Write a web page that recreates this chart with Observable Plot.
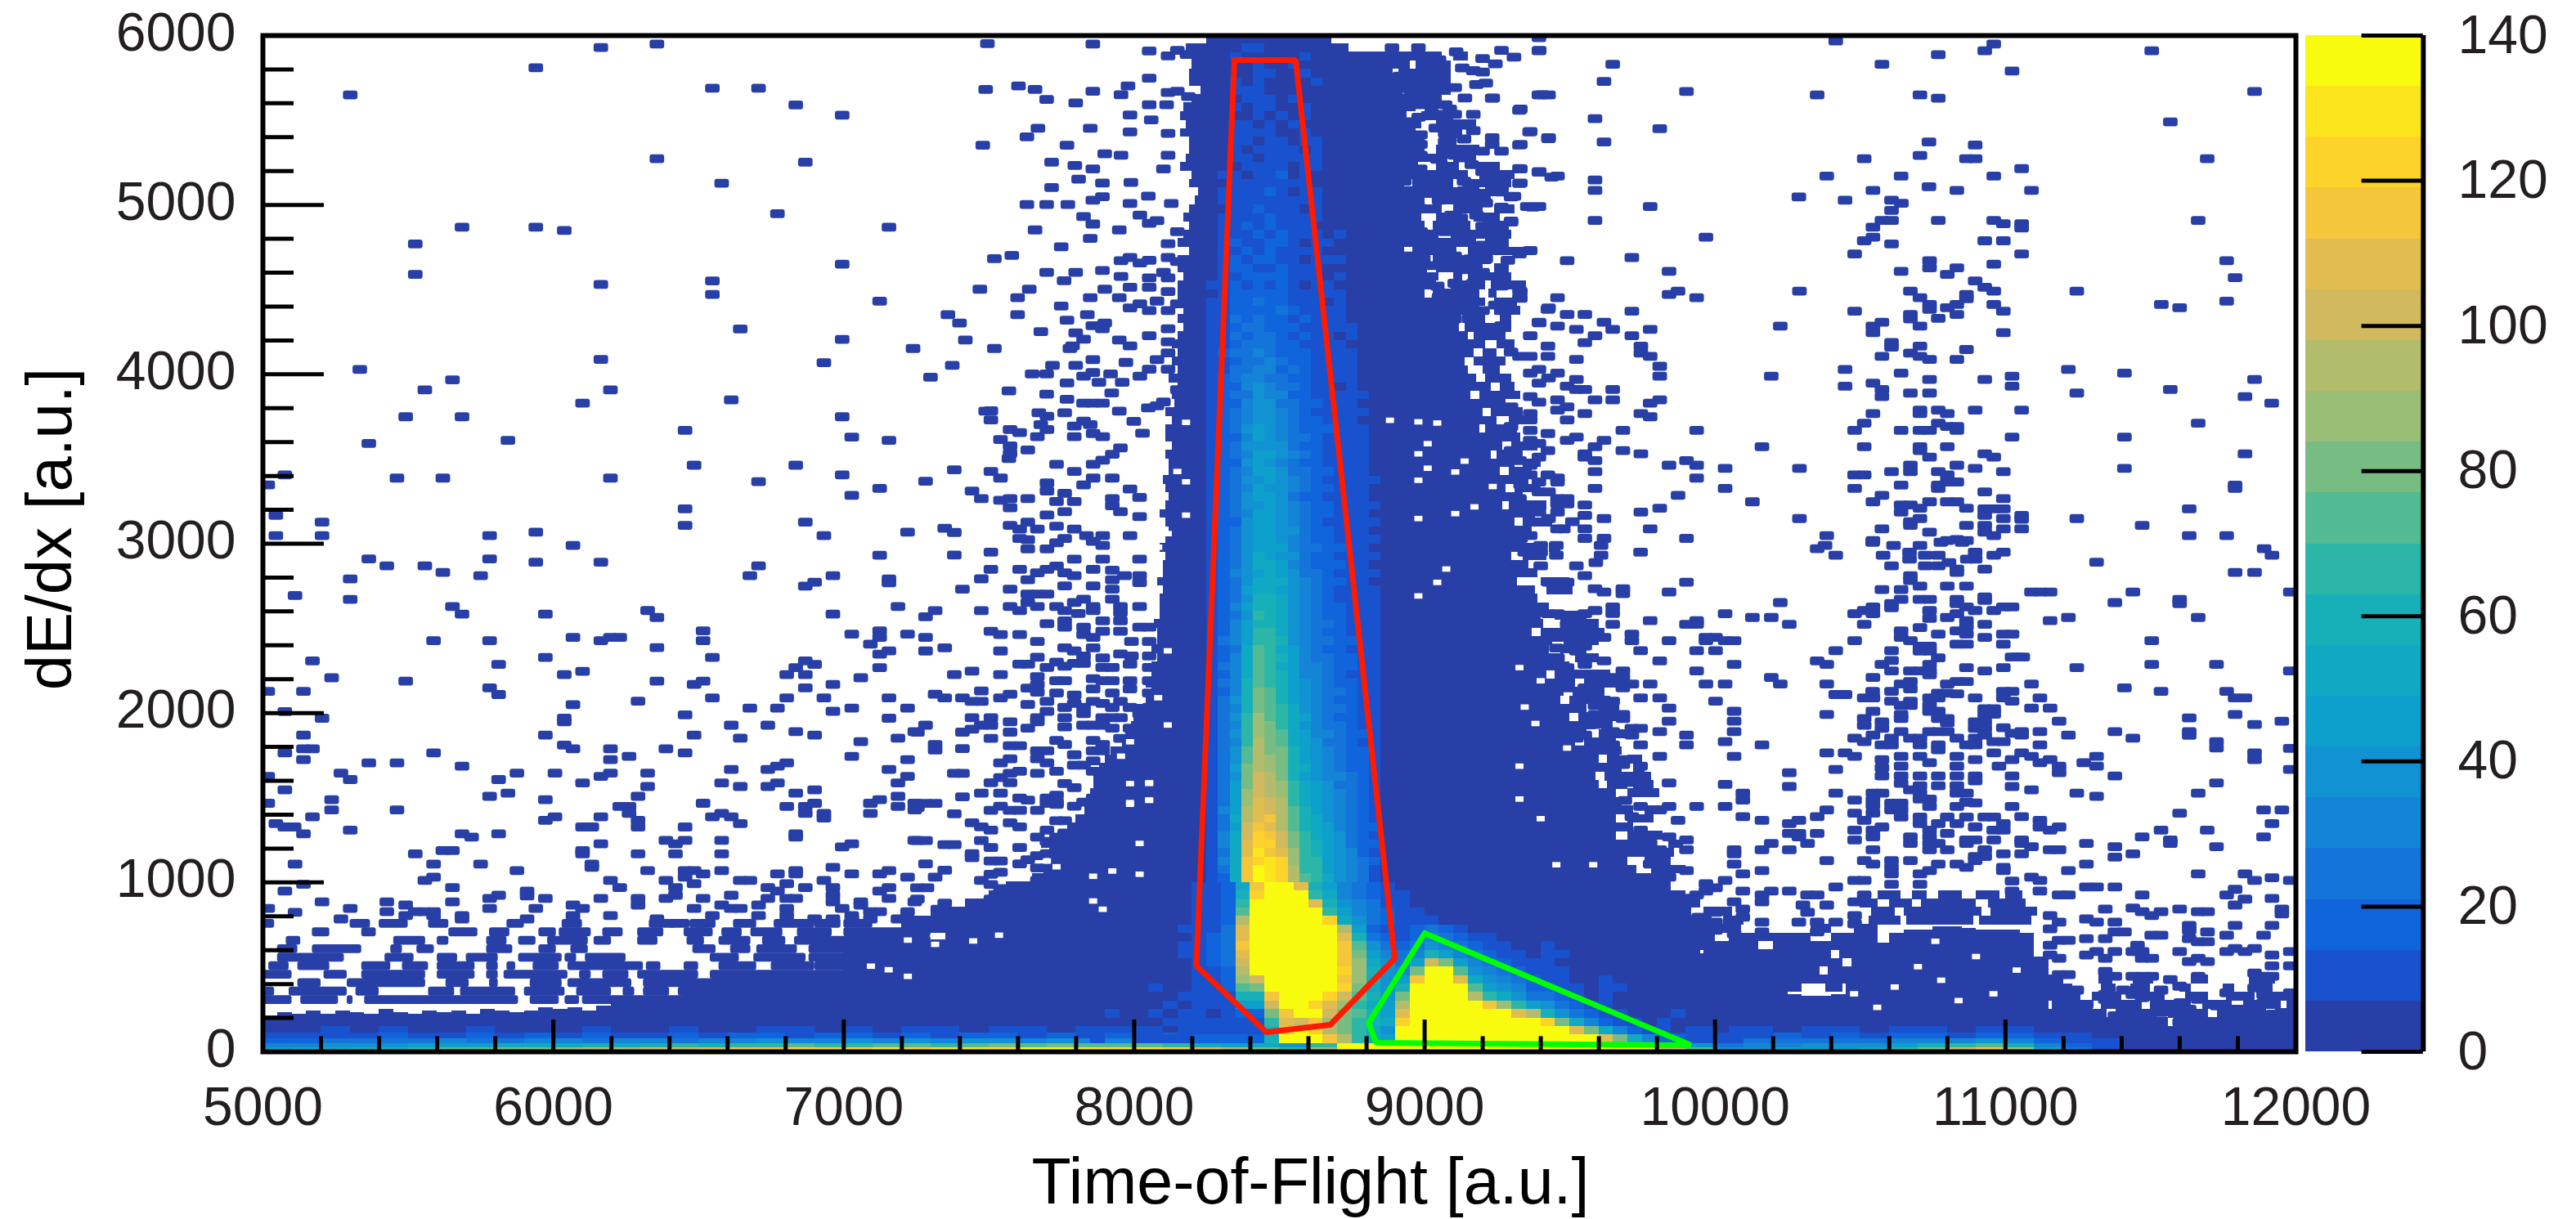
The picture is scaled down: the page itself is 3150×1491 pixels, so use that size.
<!DOCTYPE html>
<html><head><meta charset="utf-8">
<style>html,body{margin:0;padding:0;background:#fff;overflow:hidden}#wrap{position:relative;width:3150px;height:1491px}#wrap svg{position:absolute;top:0}</style>
<script src="https://cdn.jsdelivr.net/npm/d3@7"></script>
<script src="https://cdn.jsdelivr.net/npm/@observablehq/plot@0.6"></script>
</head><body><div id="wrap"></div>
<script>
const xMajor=[5000,6000,7000,8000,9000,10000,11000,12000];
const xMinor=[5200,5400,5600,5800,6200,6400,6600,6800,7200,7400,7600,7800,8200,8400,8600,8800,9200,9400,9600,9800,10200,10400,10600,10800,11200,11400,11600,11800];
const yMajor=[0,1000,2000,3000,4000,5000,6000];
const yMinor=[200,400,600,800,1200,1400,1600,1800,2200,2400,2600,2800,3200,3400,3600,3800,4200,4400,4600,4800,5200,5400,5600,5800];
const zTicks=[0,20,40,60,80,100,120,140];
const levelColors=["#273fa6","#1852ce","#1064dc","#1474da","#1484d6","#1192d2","#0da0cc","#10a9c4","#18b0b8","#2cb6a8","#53bb94","#77bc82","#9abe75","#b2bc6b","#d0b95e","#e1bd50","#f4c63c","#fdd22a","#fbe61e","#f9fb0e"];
const redCut=[[8345,5855],[8556,5855],[8897,550],[8675,159],[8455,116],[8214,507],[8345,5855]];
const greenCut=[[9000,700],[9917,39],[8833,53],[8807,169],[9000,700]];
// top of the solid low-level mass, one value per 50-wide x bin starting at 5000
const massTop=[210,230,220,240,220,240,230,220,250,230,220,240,230,240,220,250,240,230,240,260,
250,260,240,270,290,300,320,310,330,340,350,360,340,370,350,360,380,370,390,400,
620,640,620,650,680,650,660,640,620,640,640,650,640,620,650,640,650,640,650,640,
660,660,660,660,660,660,660,660,660,660,660,660,660,660,660,660,660,660,660,660,
660,660,660,660,660,660,660,660,660,660,660,660,660,660,660,620,620,620,620,580,
500,450,380,350,350,340,330,330,340,400,480,640,700,720,720,740,740,730,720,720,
720,700,560,250,180,150,140,150,130,140,130,150,130,120,140,130,150,130,120,140];
// central solid column: [y, left x, right x] for 50-high bins
const bodyRows=[[5950,8250,8680],[5900,8180,8740],[5850,8200,8800],[5800,8200,8830],[5750,8190,8830],[5700,8190,8840],[5650,8230,8840],[5600,8200,8840],[5550,8170,8840],[5500,8160,8845],[5450,8180,8850],[5400,8160,8845],[5350,8190,8850],[5300,8190,8850],[5250,8180,8845],[5200,8160,8850],[5150,8200,8850],[5100,8190,8855],[5050,8220,8850],[5000,8210,8850],[4950,8190,8855],[4900,8170,8860],[4850,8190,8850],[4800,8170,8860],[4750,8150,8860],[4700,8190,8870],[4650,8150,8880],[4600,8150,8870],[4550,8170,8900],[4500,8150,8930],[4450,8150,8920],[4400,8150,8950],[4350,8170,9000],[4300,8150,9020],[4250,8170,9010],[4200,8150,9020],[4150,8130,9050],[4100,8150,9060],[4050,8130,9050],[4000,8150,9060],[3950,8120,9070],[3900,8150,9060],[3850,8130,9080],[3800,8140,9080],[3750,8110,9100],[3700,8130,9090],[3650,8110,9120],[3600,8110,9120],[3550,8130,9130],[3500,8110,9120],[3450,8120,9150],[3400,8120,9150],[3350,8100,9160],[3300,8110,9140],[3250,8120,9170],[3200,8110,9170],[3150,8090,9190],[3100,8110,9180],[3050,8120,9200],[3000,8110,9200],[2950,8090,9220],[2900,8110,9210],[2850,8100,9230],[2800,8100,9230],[2750,8080,9250],[2700,8100,9240],[2650,8090,9250],[2600,8090,9250],[2550,8090,9280],[2500,8070,9260],[2450,8080,9290],[2400,8080,9290],[2350,8060,9310],[2300,8080,9290],[2250,8060,9320],[2200,8060,9320],[2150,8040,9330],[2100,8060,9310],[2050,8040,9340],[2000,8000,9340],[1950,8000,9360],[1900,7990,9350],[1850,7970,9390],[1800,7960,9400],[1750,7920,9410],[1700,7900,9430],[1650,7880,9440],[1600,7860,9450],[1550,7860,9450],[1500,7850,9470],[1450,7840,9480],[1400,7830,9480],[1350,7800,9510],[1300,7770,9530],[1250,7740,9540],[1200,7680,9560],[1150,7710,9600],[1100,7710,9610],[1050,7690,9620],[1000,7650,9640],[950,7560,9660],[900,7500,9700],[850,7420,9730],[800,7300,9750],[750,7200,9810],[700,7200,9860],[650,7350,9900],[600,7300,9950]];
// rows of lowest-level bins with gaps on the right flank: [y, x1,x2, ...]
const flankRuns=[[5850,8780,9060,9100,9150],[5800,8800,8950,8970,9090],[5750,8820,8890,8910,9090],[5700,8830,9090],[5650,8830,8900,8930,9090],[5600,8830,9060],[5550,8830,8970,9000,9050],[5500,8830,8940,8990,9100],[5450,8830,8990,9040,9180],[5400,8830,8970,9070,9130],[5350,8830,9000,9060,9110],[5300,8830,9000,9040,9190],[5250,8830,9080,9100,9180],[5200,8830,8980,9040,9120,9180,9260],[5150,8830,9150,9190,9310],[5100,8830,8930,8960,9100,9130,9300],[5050,8830,9190,9210,9290],[5000,8830,9000,9050,9230],[4950,8830,9060,9100,9200,9240,9310],[4900,8830,8990,9040,9130,9170,9260],[4850,8830,9000,9030,9160,9200,9290],[4800,8830,9050,9090,9300],[4750,8830,9180,9210,9290],[4700,8830,8930,8960,9110,9150,9340],[4650,8860,9000,9030,9230],[4600,8860,9010,9040,9200,9240,9290],[4550,8880,9050,9100,9130,9150,9300],[4500,8880,9040,9090,9210,9230,9350],[4450,8880,9000,9030,9190,9220,9250],[4400,8930,9210,9240,9320],[4350,8990,9190,9240,9330],[4300,9000,9100,9130,9210,9260,9300],[4250,9000,9120,9140,9300],[4200,9010,9150,9170,9280],[4150,9040,9210,9250,9310],[4100,9040,9170,9200,9250],[4050,9040,9140,9170,9280],[4000,9050,9150,9200,9260],
[3950,9050,9180,9210,9300],[3900,9040,9230,9260,9310],[3850,9060,9160,9190,9330],[3800,9060,9280],[3750,9080,9200,9230,9340],[3700,9070,9250,9290,9360],[3650,9100,9190,9210,9320],[3600,9100,9330],[3550,9110,9270,9300,9390],[3500,9100,9230,9250,9340],[3450,9130,9310,9340,9400],[3400,9130,9260,9290,9370],[3350,9140,9360],[3300,9120,9280,9310,9400],[3250,9150,9340],[3200,9150,9270,9290,9420],[3150,9170,9380],[3100,9160,9310,9340,9440],[3050,9180,9370],
[3000,9190,9340],[2950,9210,9390,9430,9470],[2900,9190,9300,9340,9420],[2850,9210,9360],[2800,9210,9390],[2750,9230,9320,9400,9500],[2700,9220,9380,9420,9510],[2650,9230,9390],[2600,9230,9430],[2550,9260,9400,9450,9560],[2500,9240,9410,9470,9600],[2450,9270,9370,9400,9620],[2400,9270,9440,9480,9600],[2350,9290,9430,9470,9560],[2300,9270,9480,9520,9600],[2250,9300,9500],[2200,9300,9420,9450,9640],[2150,9310,9520,9550,9700],[2100,9290,9480,9510,9620],[2050,9320,9470,9500,9640],[2000,9320,9560,9600,9670],[1950,9340,9500,9530,9700],[1900,9330,9590,9610,9650],[1850,9370,9560,9600,9720],[1800,9380,9520,9550,9660],[1750,9390,9680],[1700,9410,9600,9630,9670,9700,9750],[1650,9420,9680,9720,9760],[1600,9430,9590,9620,9780],[1550,9430,9600,9630,9700,9720,9790],[1500,9450,9660,9700,9810],[1450,9460,9680],[1400,9460,9720,9760,9830],[1350,9490,9660,9700,9790],[1300,9510,9720],[1250,9520,9660,9700,9820],[1200,9540,9800,9840,9890],[1150,9580,9860],[1100,9590,9700,9760,9850],[1050,9600,9730,9780,9900],[1000,9620,9840],[950,9640,9850],[900,9680,9900],[850,9710,9950],[800,9730,9920,9960,10060],[750,9790,9990,10030,10100],[700,9840,10090],[650,9880,10000,10050,10220],[600,9930,10150,10200,10280],[550,9960,10060,10100,10340],[500,10000,10120,10150,10300,10340,10440],[450,10050,10130,10170,10350,10390,10440],[400,10100,10440],
[700,10330,10400,10480,10560],[650,10200,10330,10400,10560],[600,10200,10560],[550,10060,10130,10180,10300,10320,10400,10430,10560],[500,10120,10200,10230,10420,10470,10560],[450,10100,10180,10200,10280,10300,10360,10400,10560],[400,10100,10340,10380,10560],[350,10060,10300,10380,10440,10470,10560],
[900,10560,10640,10680,10730,10770,10850,10900,10980,11000,11060],[850,10500,10560,10600,10680,10710,10900,10940,11070],[800,10540,10620,10650,10920,10950,11110],[750,10530,10640,10660,10890,10910,11090],
[400,11120,11200,11320,11370,11440,11510,11640,11700,11840,11930],[350,11150,11230,11330,11380,11430,11500,11600,11640,11750,11790,11850,11920],[300,11150,11260,11300,11400,11450,11550,11620,11700,11760,11860,11900,12000],[250,11160,11300,11330,11470,11500,11640,11680,11780,11820,11950,11970,12000],[200,11180,11350,11380,11520,11560,11700,11730,11900,11930,12000],[150,11200,11560,11600,12000]];
// [y, x1,x2, x1,x2 ...] rows of lowest-level bins just above the mass, left side
const fringeRuns=[
[730,5000,5040,5300,5370,5400,5500,5570,5640,5840,5900,6030,6100,6330,6420,6400,6470,6470,6560,6620,6700,6760,6900,6900,6990,7000,7100,7200,7300],
[680,5170,5230,5340,5390,5640,5740,5780,5850,5950,6010,6020,6130,6170,6240,6290,6380,6450,6520,6490,6550,6580,6650,6680,6790,6840,6960,7000,7300],
[630,5080,5130,5450,5560,5600,5640,5770,5840,5880,5940,5980,6120,6140,6200,6290,6360,6460,6520,6570,6680,6720,6800,6830,7300],
[580,5050,5120,5170,5340,5440,5480,5530,5590,5770,5860,5950,6010,6060,6120,6480,6560,6610,6680,6700,6840,6880,7300],
[530,5050,5280,5420,5520,5600,5670,5700,5810,5880,6030,6040,6080,6110,6250,6540,6640,6690,6870,6880,7300],
[480,5020,5090,5120,5230,5340,5440,5480,5570,5600,5730,5770,5810,5840,5870,5930,6020,6050,6310,6320,6370,6450,6500,6570,6700,6750,6900,6900,7300],
[430,5000,5100,5210,5290,5340,5560,5600,5730,5770,5810,5830,6050,6090,6130,6170,6260,6290,6500,6540,7300],
[380,5120,5200,5290,5560,5630,5710,5780,5810,5920,6030,6050,6270,6310,7300],
[330,5000,5040,5090,5290,5320,5400,5570,5660,5680,5870,5900,6040,6080,6200,6240,6280,6310,6400,6430,7300],
[280,5000,5100,5130,5260,5290,5310,5350,5880,5920,6020,6040,6090,6100,7300]];
// small empty bins inside the solid mass [x,y,x,y,...]
const holes=[8180,3714,8150,3424,8180,3363,8180,3166,8117,3057,8084,2977,8117,2365,8084,2088,8117,1927,7987,1828,7956,1743,8053,1582,8053,1482,7987,1469,8882,3726,8980,3717,9045,3710,9012,3588,8980,3528,9139,3485,9012,3443,9107,3421,8980,3372,9236,3335,9173,3215,9107,3175,8980,3146,9076,2848,9045,2769,8980,2689,9328,2266,9401,2188,9346,2033,9383,1936,9492,1791,9328,1684,9328,1490,9401,1374,9455,1102,9582,1102,8053,1586,7987,1581,7987,1459,8053,1484,8020,1228,7860,1034,7926,1065,8020,1046,7860,888,7893,839,7734,1090,7701,1124,7536,686,7447,652,7316,632,7222,657,7156,482,7095,503,7222,443,10700,500,10780,420,10620,380,10900,560,10960,340,10840,300,11040,480,10760,650,10560,260,10480,340];
// isolated bin centres [x,y,x,y,...]
const hitsUpperLeft=[6165,5927,6358,5947,5941,5807,5302,5647,6549,5687,6708,5687,6836,5588,6996,5528,6358,5271,6869,5250,6581,5126,6773,4946,5687,4866,5941,4866,6039,4847,7157,4866,5526,4767,6996,4648,5526,4587,6165,4528,6549,4549,6549,4469,7125,4429,6645,4265,6996,4204,6165,4085,6933,4066,5335,4026,5654,3965,5559,3906,6198,3906,6102,3827,6614,3847,5493,3747,5687,3747,6996,3747,6455,3667,5366,3589,5845,3608,7029,3627,7157,3608,6486,3461,6836,3461,5077,3404,5463,3385,5621,3385,6198,3385,6996,3404,5018,3344,6708,3364,7125,3324,7029,3283,6455,3203,5046,3165,5205,3125,6455,3106,6869,3125,5046,3045,5205,3045,5782,3045,5941,3066,6933,3045,7221,3066];
const hitsLowerLeft=[6069,2987,5366,2908,5782,2908,5428,2867,5559,2867,5621,2828,5941,2888,6165,2888,5751,2809,5302,2789,6708,2867,6678,2809,7125,2929,6964,2809,7157,2789,7157,2766,6901,2770,6869,2747,5112,2692,5302,2669,5654,2626,5687,2582,5974,2582,6326,2603,6358,2562,6964,2582,7188,2626,6517,2483,6517,2425,6069,2444,6165,2425,6198,2444,6230,2444,5589,2425,5782,2425,7029,2464,7125,2483,7125,2444,7221,2464,7093,2405,6358,2384,5172,2305,5813,2285,5974,2326,6549,2326,7157,2365,7125,2345,6869,2305,6901,2285,6836,2266,5238,2206,5493,2186,6039,2225,6102,2244,6358,2186,6517,2186,6486,2167,6805,2225,6869,2225,7125,2266,7060,2206,6964,2167,6869,2146,5018,2126,5141,2126,5782,2146,5813,2107,6549,2087,6805,2087,6933,2087,7157,2087,6293,2068,6069,2047,5077,2006,5205,1967,6039,1967,6039,1946,6455,1987,6678,2027,6773,2027,6964,2008,7029,2027,7221,2027,7157,1967,5141,1868,5974,1868,6486,1868,6614,1926,6740,1926,6836,1888,6901,1868,6645,1849,7060,1829,7188,1849,7246,1888,5141,1787,5172,1787,5077,1762,5141,1723,5589,1762,6039,1808,6069,1787,6198,1787,6198,1723,6389,1787,6455,1762,6262,1742,7029,1742,7221,1723,5366,1703,5463,1703,5687,1684,6805,1703,6773,1684,6740,1665,6614,1665,7157,1665,5270,1643,5302,1605,5018,1624,5876,1643,6007,1643,5813,1605,6165,1624,6198,1643,6326,1643,6102,1585,6326,1564,6581,1585,6645,1564,6740,1564,6773,1585,7188,1585,7221,1624,5077,1544,5845,1525,6836,1525,6901,1544,5782,1506,6293,1506,7188,1506,5238,1486,5018,1465,5974,1486,6517,1465,7125,1486,7093,1465,6805,1446,6869,1446,6901,1465,7188,1446,7246,1465,5238,1426,5463,1426,6230,1446,6262,1446,6262,1405,6581,1405,6549,1385,6614,1385,6869,1405,6933,1405,6933,1378,7093,1405,7246,1426,5172,1385,6007,1385,5974,1364,6165,1385,6293,1364,6293,1325,5046,1345,5077,1325,5109,1325,5141,1285,5302,1306,6102,1325,6134,1325,6455,1325,6645,1345,5687,1285,5720,1265,5813,1285,6836,1285,6836,1265,6389,1246,6455,1246,6422,1226,6581,1246,6165,1226,6996,1207,7029,1226,7246,1246,5621,1186,5654,1186,5526,1166,6102,1186,6102,1166,6293,1166,6422,1166,6581,1166,5112,1106,5589,1106,5751,1106,6134,1106,6134,1087,6836,1067,6455,1067,6486,1067,6581,1067,6326,1067,5876,1067,6964,1087,7157,1067,7125,1048,7029,1048,6773,1048,6836,1048,6517,1048,6455,1029,5589,1029,5559,1009,5141,986,6198,1009,6389,1009,7221,1029,6645,1009,6678,1009,6486,990,6933,1009,5077,947,5654,967,6230,967,6422,967,6805,990,6740,967,6869,967,6964,967,7157,967,5911,947,5911,918,5813,922,5782,903,6773,947,7125,947,6964,922,6422,922,6389,903,6614,922,5974,903,6165,903,6293,903,6293,864,6517,903,6740,903,6805,903,6836,903,7157,903,5205,883,5428,883,5654,883,6964,883,7060,883,7060,864,7246,883,5493,864,6069,864,6102,844,6581,864,6614,844,6645,844,6708,864,6708,802,6486,844,6805,844,6805,802,5018,844,5302,844,5782,844,5941,844,6996,844,5112,821,5428,825,5526,825,5559,825,5589,825,5589,802,5493,802,5687,802,6069,802,6198,802,6549,802,7029,802,7093,825,7125,825,7221,825,7188,782,7093,782,7029,782,6901,782,6964,782,6358,782,5911,782,5270,782,5687,782];
const hitsTopMiddle=[7496,5950,7490,5680,7603,5700,7660,5680,7700,5620,7632,5400,7717,5250,7632,5000,7717,5100,7773,5000,7660,4850,7520,4680,7470,4500,7360,4350,7400,4300,7375,4050,7600,4450,7600,4350,7520,4150,7680,4250,7570,3900,7490,3780,7680,3700,7570,3500,7240,4150,7420,4200,7300,3980,7750,4750,7750,4400,7700,4000,7480,5350,7670,5450,7800,5600,7770,5350,7810,5150,7800,4600,7760,4550,7850,4450,7900,4500,7950,4450,7840,4350,7900,4300,7950,4200,7780,4150,7720,4050,7800,4050,7920,4000,7960,3950,7880,3950,7650,4000,7700,3880,7770,3850,7950,3780,8000,3720,8050,3800,7850,3700,8030,3650,7580,4700,7700,4600,7640,4500,7850,4800,7950,4850,7700,5000,7900,5300,7990,5130,8050,5050,7850,5450,7980,5700,8060,5500,7859,5947,8053,5907,7859,5669,7956,5648,8053,5746,8118,5878,8150,5910,8183,5886,8118,5661,8150,5669,8188,5637,8053,5589,8113,5589,7987,5529,7987,5429,8118,5420,7956,5291,8118,5291,7797,5231,7859,5210,8102,5210,7892,5127,7859,5025,7892,5046,7987,5006,8129,5006,7827,4929,8021,4937,8053,4889,8080,4905,7859,4885,8150,4840,8118,4768,7987,4687,7956,4668,8021,4655,8053,4671,8118,4687,8150,4663,7892,4610,7956,4575,8053,4567,8102,4599,8118,4567,7987,4511,8053,4511,8118,4486,8080,4430,8021,4414,7987,4390,8053,4374,8118,4374,8150,4414,7770,4317,7859,4285,7892,4266,8118,4266,7800,4242,8053,4226,7827,4205,8118,4189,7789,4165,7987,4165,8118,4124,7859,4084,7973,4068,8080,4084,8053,4028,8118,4028,7859,4008,7827,3987,8021,3987,7770,3947,8150,3907,7924,3888,7859,3827,7827,3827,7892,3827,8102,3835,8080,3811];
const hitsMidLeft=[7508,3782,7508,3728,7673,3770,7701,3750,7762,3770,7827,3721,7795,3692,7574,3672,7607,3653,7701,3672,7668,3629,7541,3612,7795,3629,7860,3648,7893,3629,7574,3575,7574,3531,7635,3551,7954,3563,7926,3526,7893,3490,7860,3466,7734,3466,7382,3434,7508,3424,7541,3385,7795,3424,7860,3385,7926,3385,7827,3344,7283,3366,7701,3356,7701,3308,7443,3308,7475,3264,7762,3295,7541,3254,7574,3264,7574,3210,7635,3264,7734,3247,7795,3247,7762,3186,7701,3167,7926,3264,7926,3222,7987,3320,8020,3271,7954,3186,8020,3157,7574,3106,7607,3084,7635,3125,7668,3084,7734,3101,7795,3084,7837,3045,7893,3045,7893,2987,7860,3011,7734,3003,7762,3028,7701,2967,7607,3028,7635,3021,7635,2967,7508,2948,7382,2931,7349,3089,7382,3064,7987,3045,7795,2906,7893,2906,8020,2906,7508,2846,7475,2790,7607,2846,7668,2826,7701,2846,7734,2865,7762,2826,7795,2809,7860,2846,7926,2841,7926,2785,7926,2729,7968,2809,8020,2809,8020,2768,7635,2785,7762,2748,7574,2729,7860,2748,7635,2700,7668,2700,7701,2700,7410,2729,7635,2651,7668,2627,7574,2627,7607,2602,7734,2627,7762,2602,7795,2651,7827,2670,7860,2627,7860,2602,7926,2670,7954,2627,8020,2627,7954,2590,7475,2602,7316,2602,7283,2566,7809,2585,7701,2525,7762,2542,7762,2505,7893,2542,7954,2542,8053,2505,7827,2505,7827,2461,7860,2444,7893,2481,7954,2481,8020,2505,7508,2481,7541,2461,7607,2461,7283,2444,7283,2364,7668,2420,7349,2383,7541,2364,7992,2420,8053,2420,7762,2383,7795,2364,7860,2383,7827,2335,7954,2347,7992,2335,7668,2327,8053,2335,7607,2286,7635,2286,7701,2267,7734,2298,7762,2274,7795,2291,7827,2291,7893,2323,7893,2267,7926,2267,7987,2286,8053,2267,7382,2225,7443,2245,7541,2225,7668,2213,7668,2165,7734,2189,7762,2189,7860,2201,7860,2140,7893,2189,7926,2189,7987,2189,8053,2189,7635,2145,7668,2121,7734,2116,7795,2104,7926,2116,7987,2140,8053,2116,7316,2109,7349,2087,7410,2087,7443,2067,7475,2067,7475,2128,7541,2087,7574,2109,7635,2048,7701,2067,7762,2031,7795,2055,7827,2031,7860,2067,7893,2055,7926,2031,7954,2067,7987,2031,8053,2031,7701,2007,7827,1994,7893,1970,7926,1970,7954,1970,8020,1994,7443,1970,7508,1970,7508,1926,7475,1926,7574,1946,7668,1970,7668,1946,7762,1970,7762,1916,7827,1926,7860,1926,7893,1926,7926,1909,7987,1909,7283,1926,7255,1885,7410,1885,7443,1902,7574,1885,7635,1909,7508,1848,7734,1836,7762,1812,7860,1836,7893,1812,7954,1848,8020,1848,7316,1812,7316,1780,7410,1788,7574,1805,7607,1805,7668,1775,7668,1727,7701,1775,7701,1703,7795,1751,7795,1690,7827,1690,7860,1775,7893,1775,7541,1703,7574,1727,7734,1654,7860,1715,7860,1654,7607,1654,7574,1642,7541,1617,7382,1642,7410,1642,7508,1586,7574,1586,7668,1642,7762,1581,7795,1557,7734,1513,7893,1544,7475,1525,7541,1525,7607,1496,7635,1484,7701,1496,7734,1472,7410,1503,7827,1472,7860,1496,7926,1496,7283,1464,7316,1464,7255,1440,7382,1403,7508,1423,7541,1447,7574,1423,7607,1423,7668,1423,7701,1464,7734,1459,7795,1447,7860,1398,7893,1398,7926,1398,7443,1350,7475,1326,7508,1306,7574,1350,7607,1326,7734,1362,7762,1362,7827,1350,7860,1338,7701,1306,7762,1289,7795,1277,7827,1313,7668,1265,7701,1240,7734,1265,7827,1240,7860,1265,7255,1245,7283,1245,7349,1221,7382,1221,7475,1245,7508,1204,7607,1204,7443,1167,7443,1143,7508,1124,7541,1124,7607,1107,7635,1131,7668,1155,7701,1167,7734,1155,7795,1192,7668,1083,7701,1083,7283,1107,7349,1070,7316,1029,7508,1046,7541,1058,7475,1009,7508,985,7668,1009,7701,985,7541,961,7607,973,7640,949,7668,936,7255,966,7288,966,7255,900,7349,875,7325,839,7349,790,7508,900,7541,900,7475,839,7602,900,7635,900,7673,936,7443,783];
const hitsTopRightNear=[8980,5926,8889,5926,9051,5854,9110,5902,9266,5910,9309,5870,9396,5910,9201,5862,9245,5830,9061,5822,9169,5790,9201,5782,9131,5806,8916,5758,8981,5770,9051,5749,8916,5709,9013,5709,9105,5690,9180,5709,9212,5717,8851,5685,8900,5669,8937,5685,9406,5648,8878,5629,8932,5629,9029,5648,8997,5609,8981,5589,9140,5629,9236,5629,9072,5589,9088,5564,9331,5564,9045,5532,9105,5532,9169,5532,8981,5516,8948,5489,9072,5468,9040,5452,9137,5468,9169,5436,8987,5412,9072,5420,9105,5420,9363,5429,9234,5395,9428,5395,9137,5387,8987,5355,9072,5371,8921,5387,8921,5339,9331,5355,9234,5355,9201,5315,9266,5315,8987,5291,9105,5291,9045,5267,9137,5275,8889,5275,8943,5243,9164,5235,8986,5210,9072,5210,9201,5194,9331,5210,9396,5194,8910,5210,9439,5162,8932,5138,8987,5130,9072,5130,9137,5138,9234,5127,9331,5127,8943,5082,9018,5066,9072,5082,9137,5082,9201,5066,9266,5074,9309,5049,8943,5017,9051,5025,9137,5001,9212,5009,9374,4985,9266,4985,8900,4985,8986,4977,9094,4937,9180,4937,9299,4897,8943,4889,8988,4840,9126,4921,9072,4840,9201,4872,9256,4824,8943,4792,8997,4768,9137,4776,9201,4760,9266,4752,9363,4728,8900,4728,8943,4696,9105,4696,8997,4679,9158,4679,9212,4679,9288,4671,9029,4639,9137,4615,9201,4599,8943,4599,8889,4551,8986,4535,9045,4519,9105,4535,9169,4535,9266,4519,9331,4486,8943,4519,9051,4454,9137,4454,9245,4406,9331,4446,8943,4422,9072,4390,9137,4398,9201,4374,9266,4374,9428,4390,9396,4301,9105,4325,9169,4309,9266,4285,8943,4325];
const hitsUpperRight=[9395,5985,9395,5908,10417,5966,10961,5947,10930,5908,11505,5908,10770,5885,9649,5828,10576,5828,11024,5788,9619,5727,9903,5668,10353,5647,10707,5647,10770,5628,11859,5668,9395,5647,9428,5647,9234,5628,9328,5557,9588,5507,11569,5488,9811,5448,9365,5431,9428,5389,9619,5370,10738,5370,10897,5351,9328,5351,10707,5290,10515,5271,10867,5271,10897,5271,11696,5271,11057,5212,9328,5212,9395,5191,9459,5168,10386,5168,10642,5168,10961,5168,9588,5145,9588,5084,9328,5124,10738,5105,10545,5084,10834,5084,11091,5084,10290,5045,10449,5026,10609,5026,10643,5007,9355,4988,9395,4988,9778,4988,10609,4965,9299,5045,9588,4906,10576,4906,10609,4906,10770,4906,10961,4906,10994,4887,11057,4887,11057,4862,11665,4906,9299,4902,10545,4866,9970,4807,10545,4807,10515,4786,10609,4767,10930,4786,10994,4786,9365,4729,9328,4708,10482,4708,11057,4708,9492,4668,9715,4687,10740,4668,11763,4668,10740,4626,10834,4626,9843,4606,10642,4606,10961,4648,10801,4587,11792,4568,10897,4549,10930,4511,10961,4488,9874,4488,9843,4469,9938,4450,10292,4488,10674,4488,11247,4488,9328,4492,9328,4450,9459,4450,10707,4450,10867,4469,10867,4444,10834,4410,10740,4410,10740,4381,10801,4391,10961,4410,11538,4410,11601,4391,11763,4429,9426,4381,9492,4351,9553,4351,9715,4370,10482,4370,10994,4370,10674,4351,10674,4324,10834,4351,10770,4328,9395,4305,9619,4305,9459,4282,9524,4263,9649,4263,9778,4263,10226,4282,10576,4305,10545,4282,10707,4282,10545,4244,10994,4244,9365,4225,9588,4225,9715,4225,9553,4184,9426,4164,9746,4164,10609,4186,10609,4158,10707,4164,10867,4144,9746,4123,9778,4104,9365,4104,9299,4129,9328,4104,9426,4104,9524,4085,10576,4104,10674,4123,10707,4104,10740,4085,10834,4085,9811,4045,9395,4026,10449,4026,11218,4026,9365,4005,9459,4005,10642,4005,11411,4005,9811,3986,9428,3976,10195,3986,10740,3967,10930,3967,11024,3986,11859,3967,9524,3967,9395,3946,9492,3927,9524,3908,9553,3908,9649,3908,10449,3927,10545,3946,11024,3927,10576,3908,10576,3866,10674,3887,10740,3887,11247,3887,11569,3908,11826,3866,11918,3827,9365,3866,9395,3833,9459,3847,9588,3847,9649,3847,9811,3847,9778,3827,9492,3805,9459,3786,9299,3805,10707,3786,10707,3766,10770,3786,10801,3766,10897,3786,11057,3786,9553,3766,9746,3766,9778,3747,10545,3766,9365,3766,9365,3728,9492,3728,10515,3709,10770,3709,10801,3690,10834,3690,11665,3709,9299,3690,9365,3667,9684,3667,9938,3667,10482,3667,10642,3667,10707,3667,10740,3667,10834,3667,9426,3648,11024,3627,11411,3627,9365,3608,9524,3627,9492,3608,9619,3608,9395,3589,9588,3570,10163,3570,10515,3570,10707,3570,10801,3570,9299,3547,9426,3547,9684,3547,9553,3528,9746,3528,9395,3509,10707,3547,10740,3509,10930,3528,10961,3509,11826,3528,9553,3509,9588,3488,9903,3488,9328,3488,9365,3461,9843,3461,9938,3461,10036,3442,10292,3442,10674,3461,10834,3461,10897,3442,11411,3442,10674,3423,9588,3423,10482,3404,10515,3404,10609,3423,10770,3423,10994,3423,9365,3404,9426,3404,10801,3404,9938,3385,9395,3362,9459,3362,9459,3385,10801,3362,10834,3362,9332,3346,10642,3343,9588,3324,10036,3324,10482,3324,10770,3343,10770,3324,11792,3343,11792,3324,9395,3303,9428,3303,10930,3303,9874,3283,10576,3283,9328,3264,9459,3264,9492,3264,10994,3264,10130,3245,10545,3245,10740,3245,10801,3245,10834,3245,9459,3232,9492,3232,9365,3226,9553,3226,10642,3226,10674,3226,10707,3207,10867,3207,10930,3203,10961,3203,10994,3203,9811,3207,9746,3184,10642,3184,11634,3203,9395,3184,9459,3184,9428,3146,9553,3165,10930,3165,11057,3165,11057,3142,9619,3146,10292,3146,10707,3146,10674,3127,10994,3146,11247,3146,9510,3127,9479,3085,9459,3085,9553,3085,9778,3085,10576,3085,10674,3106,10867,3106,10930,3106,10930,3066,10994,3085,11057,3085,11472,3106,10740,3066,10386,3045,10961,3045,11634,3045,11763,3045,9365,3045,9332,3029,9553,3029,9619,3029,9903,3029,10545,3016,10801,3016,10834,3022,10867,3016];
const hitsLowerRight=[10544,3006,10380,2987,10353,2968,10616,2987,10707,2987,10779,3006,10852,3006,9609,2987,9401,2987,9455,2987,9745,2948,10417,2929,10580,2929,10671,2948,10671,2906,10725,2929,10770,2929,10897,2948,10870,2906,10897,2906,10961,2929,10994,2948,11892,2968,11919,2929,11315,2888,9609,2929,9591,2886,9346,2948,9401,2948,9455,2929,9524,2867,9401,2867,10609,2867,10725,2867,10770,2867,10807,2886,10834,2847,10834,2828,10930,2847,11792,2828,11859,2828,9553,2809,10674,2809,10674,2780,9428,2770,9492,2770,9903,2770,10707,2747,10801,2747,10867,2747,9588,2731,9619,2712,9684,2731,9684,2702,9843,2712,10576,2727,10642,2727,11091,2712,11124,2712,11155,2712,11440,2712,11982,2712,10930,2683,10930,2663,10707,2669,10740,2669,10642,2669,10609,2644,10609,2619,10834,2669,10834,2644,10226,2650,11378,2650,11601,2669,11601,2644,10545,2624,10994,2624,11024,2624,10961,2603,10867,2624,10897,2603,9649,2624,9649,2586,9588,2603,9553,2584,9426,2584,9459,2584,10515,2603,10482,2584,10545,2584,10740,2603,10740,2557,10834,2584,10801,2562,10036,2584,10130,2562,10195,2562,9778,2543,9938,2543,9903,2522,9938,2522,10257,2522,10515,2522,10867,2543,10867,2508,10930,2522,11155,2543,11218,2562,11665,2562,9492,2522,9649,2522,10707,2502,10642,2483,10834,2483,10770,2464,10867,2464,10994,2464,11024,2464,9715,2464,9715,2425,9619,2444,9459,2444,9394,2425,9553,2425,9843,2425,9970,2444,10003,2444,9970,2425,10036,2425,10067,2425,10482,2425,10642,2444,10674,2425,10834,2405,10867,2405,10930,2444,10994,2405,11505,2425,10707,2392,10740,2392,10740,2363,10707,2363,9745,2366,9938,2366,10003,2366,10417,2366,10609,2366,9553,2392,9524,2363,9455,2382,9401,2343,10770,2324,11043,2328,11024,2328,11061,2328,9553,2324,9459,2324,9619,2305,9811,2305,10353,2305,10609,2308,10386,2285,10067,2285,10576,2285,10740,2285,11505,2285,11728,2285,9553,2285,9492,2266,11247,2266,10867,2266,10994,2266,9938,2246,10609,2246,10674,2246,10707,2246,10740,2246,10930,2246,11982,2246,9684,2246,9684,2208,9649,2208,10740,2223,10545,2208,10195,2208,9492,2188,9459,2169,9588,2169,9715,2169,9778,2169,9970,2169,10036,2169,10226,2169,10386,2169,10674,2184,10642,2169,10834,2184,10867,2184,10801,2169,11091,2169,9684,2146,9553,2146,9492,2146,10674,2140,11411,2146,11537,2126,11763,2126,10544,2126,10609,2126,10770,2115,10801,2115,10834,2111,10994,2126,11024,2126,10417,2107,10449,2107,10515,2087,10545,2087,10740,2087,10770,2087,10897,2087,10994,2087,11120,2087,11792,2087,11826,2087,9745,2087,9811,2087,9619,2068,9649,2068,9588,2068,9588,2043,10003,2068,10609,2068,10674,2068,11024,2068,10740,2043,10674,2043,10642,2043,10930,2023,10961,2023,10930,1990,10961,1990,9843,2027,10067,2008,10545,2008,10740,2008,10770,2008,11091,2027,11155,2027,9588,1989,9684,1989,9684,1965,10386,1989,10642,1989,10642,1965,10515,1965,10576,1946,10770,1965,10801,1965,10801,1940,10897,1946,10930,1946,11634,1969,11792,1989,9843,1950,10067,1950,11186,1950,11953,1950,9588,1930,10515,1926,10576,1907,10897,1907,10930,1907,10994,1911,11859,1930,9649,1888,9715,1907,9745,1907,9715,1868,9811,1888,10067,1888,10642,1888,10740,1888,10770,1888,10801,1888,11057,1888,11057,1868,11120,1888,11378,1888,11634,1888,11634,1866,9492,1868,9524,1849,9553,1868,9903,1868,11218,1868,11440,1849,10482,1849,10515,1829,10545,1868,10609,1849,10674,1849,10707,1849,10834,1849,10897,1849,10930,1868,11024,1878,10576,1810,10609,1810,10707,1810,10770,1810,10770,1781,10867,1810,10897,1810,10961,1829,10994,1829,11120,1810,11728,1829,11728,1791,9649,1810,9745,1810,9903,1810,10036,1829,10163,1810,9528,1781,9564,1781,9600,1781,9811,1742,10067,1742,10386,1762,10449,1762,10482,1742,10576,1723,10642,1742,10642,1684,10707,1742,10740,1704,10834,1742,10897,1723,10961,1762,11057,1762,11091,1742,11024,1723,11155,1723,11315,1742,11271,1704,11859,1762,11859,1723,11982,1789,9684,1723,9684,1694,9745,1684,10576,1674,10834,1684,10979,1684,11120,1704,11186,1684,11315,1684,11982,1665,10417,1665,10257,1645,10576,1626,10642,1626,10707,1626,10770,1626,10834,1626,10897,1626,11024,1626,11186,1645,11378,1626,9745,1626,9715,1587,9745,1587,9843,1585,10036,1577,10257,1564,10642,1583,10707,1568,10770,1568,10834,1568,10897,1597,11024,1564,11728,1585,11091,1544,10097,1525,10417,1525,10545,1525,10576,1525,10674,1544,10707,1525,10834,1525,10867,1525,11247,1525,11665,1525,11315,1506,10482,1484,10545,1484,10097,1484,10609,1465,10642,1465,10740,1490,10707,1490,10867,1471,10897,1467,9691,1481,10545,1451,9745,1446,9811,1426,9843,1446,9938,1446,10036,1446,10740,1446,10834,1446,11024,1446,11890,1426,11953,1426,11601,1407,10386,1426,10482,1407,10545,1407,10609,1426,10642,1426,10642,1384,10707,1384,10801,1384,10867,1384,10930,1384,10961,1384,9715,1386,10097,1386,10163,1364,10353,1386,10515,1364,11057,1386,11120,1364,9874,1364,10257,1345,10290,1364,10257,1287,10290,1287,11919,1345,10707,1345,10770,1345,10834,1345,10994,1345,10897,1325,11120,1325,11186,1325,9745,1306,10482,1306,10576,1325,10545,1306,10740,1306,10961,1306,10994,1306,11155,1306,11537,1306,11696,1306,10353,1287,10801,1287,9843,1267,9903,1248,10290,1267,10482,1248,10545,1267,10674,1267,10740,1267,10867,1248,10897,1248,10961,1248,11057,1248,11472,1267,11569,1248,11890,1267,10195,1228,10320,1228,10674,1228,10740,1228,10770,1228,10867,1228,11280,1228,11569,1228,11057,1228,9778,1228,10067,1190,10163,1190,10257,1190,10545,1190,9903,1190,9715,1190,9811,1190,10740,1190,10801,1190,10930,1190,11091,1209,11155,1190,11186,1190,11378,1209,11728,1209,10930,1151,10994,1166,11057,1166,10897,1151,10067,1166,11440,1166,11378,1147,10386,1127,10515,1127,10609,1127,10674,1127,10897,1127,10545,1106,9778,1106,10770,1106,10867,1087,10067,1106,11280,1106,10609,1087,10834,1106,10994,1087,10740,1067,10163,1067,9903,1067,11218,1067,10994,1067,10097,1048,10707,1048,10609,1048,11665,1048,11826,1048,11091,1029,9843,1029,10036,1009,9970,990,10003,966,10097,947,10195,947,10257,947,10417,971,10482,1009,10515,1009,10707,986,10609,986,11024,1006,11120,1009,11280,971,11315,971,11378,971,11859,1009,11919,1025,11982,1009,11024,947,11120,947,11186,924,11218,924,11472,924,11763,924,11792,957,11826,899,11919,903,9970,947,9938,924,9903,905,10067,883,10163,924,10163,883,10320,924,10353,924,10304,864,10386,864,10482,883,10515,924,11792,864,11345,841,11440,846,11472,825,11505,802,11537,825,11601,841,11665,825,11697,825,11953,841,11953,811,10320,821,10097,841,10003,821,9945,792,9912,753,10003,763,10097,792,10163,763,10290,763,10353,763,10417,763,10482,802,10482,753,11155,802,11186,763,11280,782,11315,763,11378,763,11634,744,11792,744,11919,744,10003,715,10067,695,10163,705,10353,705,11155,724,11378,705,11411,705,11505,686,11537,686,11634,715,11697,705,11763,686,11890,686,11186,656,11218,656,11155,627,11280,666,11345,666,11634,666,11665,647,11697,647,11456,627,11378,589,11315,589,11280,569,11345,550,11440,589,11472,589,11472,550,11505,550,11601,589,11634,530,11665,550,11697,530,11763,589,11792,608,11826,589,11859,608,11919,569,11982,589,11186,550,11155,569,11919,505,11982,505,11186,453,11218,453,11345,472,11378,443,11440,443,11472,443,11505,443,11665,443,11569,424,11601,385,11859,463,11890,443,11919,443,11155,362,11247,362,11345,336,11345,307,11407,362,11440,336,11472,317,11537,362,11763,346,11859,375,11890,336,11982,346,11218,307,11605,288,11665,307,11730,269,11792,249,11826,249,11890,288,11919,288,11186,230,11280,278,11280,230,11378,210,11440,210,11472,172,11537,230,11634,249,11634,220,11763,152,11922,220,11953,230,11982,230,11218,172,11280,152,11601,172,11634,133];
// binned level (0-j = 20 colour steps). Each row: 100-wide x bins from 5000
const floorStart=5000, floorRows=[
[0,25,"677889aabb cddeefgghh hihiiijjii ihfdb9cjjj jjjjjjjjea 55666 79beg c631000000"],
[25,50,"4455566677 7878989 9a9 9aa9ababaa a9767 59jjj jjjjjjjj95 34455 5689a 8421000000"],
[50,75,"2233334334 4344344544 5454554544 4434333333 3333333333 2333334445 4211000000"],
[75,110,"1111211212 1211212212 2121221212 1212111111 1111111111 1121212212 2110000000"],
[110,150,"0010100100 0100100110 1011011011 1010010101 0000000001 0101101101 1000000000"]];
// binned levels in 50x50 cells, x from 7800
const lowStart=7800, lowRows=[
[950,"0000 0000 1127 gjjf 8643 2100 0000"],
[900,"0000 0000 1128 hjjj 9743 2110 0000"],
[850,"0000 0000 1129 jjjj f854 3110 0000"],
[800,"0000 0000 112a jjjj j964 3211 0000"],
[750,"0000 0000 112d jjjj jh75 3211 1000"],
[700,"0000 0001 113f jjjj jjd6 2112 3210"],
[650,"0000 0000 123f jjjj jjf8 3212 4321 1000"],
[600,"0000 0001 123g jjjj jjga 5323 5432 1100 1000"],
[550,"0000 0001 123f jjjj jjgb 6434 8643 2110 1100"],
[500,"0000 0000 123e jjjj jjgc 7536 eb64 3211 1000"],
[450,"0000 0000 112d jjjj jjhc 854b jja5 4321 1100"],
[400,"0000 0000 112c ejjj jjgc 856g jjf7 5432 1100 1000"],
[350,"0000 0100 112a bjjj jjhb 758j jjja 6542 2110 1100"],
[300,"0000 0001 1118 8gjj jhea 85bj jjjd 9753 3210 1000"],
[250,"0000 0010 1116 6ejj hfc9 76dj jjjj gc96 5321 1000"],
[200,"0010 0101 1012 2bgj jeba 86fj jjjj jjfd 8532 1100 0100"],
[150,"0000 0011 1111 19fe gcb9 87hj jjjj jjjj hb74 2110 1000"],
[100,"0100 0101 1111 18gj hdb9 75jj jjjj jjjj jjfb 7421 1010 0100"],
[50,"0100 1111 2222 28jj jgd9 76jj jjjj jjjj jjjj fb74 2211 1100"]];
// binned levels, x from 8210 in 40-wide columns, y from 5950 down to 1000 in 50 steps
const coreStartX=8210, coreTopY=5950, coreRows=["0000 0000 0000 0000","0000 1100 0000 0000","0001 0000 0100 0000","0000 0100 1000 0000","0000 0110 0100 0000","0001 0100 0010 0000","0001 1100 0000 0000","0000 1110 1000 0000","0001 0110 0100 0000","0000 0101 0100 0000","0001 1010 1000 0000","0001 1110 0100 0000","0001 1011 0110 0000","0001 0111 1010 0000","0001 1011 1110 0000","0000 1111 0110 0000","0011 0112 0100 0000","0001 1111 1100 0000","0011 1121 0110 0000","0011 1111 1110 0000","0001 1211 1010 0000","0011 1121 1110 0000","0011 2121 1100 0000","0011 1212 1110 1000","0012 1122 1011 0000","0011 2121 1110 0000","0012 1221 1011 1000","0012 2112 1110 0000","0011 2222 1110 1000","0112 1212 1011 0000","0012 2222 1111 1000","0112 2322 1110 1000","0112 2223 2111 1000","0113 2322 1211 1000","0112 3322 2111 1100","0113 2332 1211 0100","0112 3332 2111 1000","0123 3432 2211 1100","0112 3343 2211 1100","0113 3442 3211 1100","0123 4433 2211 1100","0122 4543 3211 0100","0123 3544 2211 1110","0122 4553 3221 1100","0123 4554 3211 1110","0123 4554 3221 1100","0123 5654 3222 1110","0122 4654 3321 1110","0123 5555 3221 1110","0123 4665 4321 1110","0122 5654 3221 1110","0123 4665 3322 1110","0123 5565 4321 1111","0123 4655 4322 1110","0123 5665 3221 1110","0123 5565 4322 1111","0123 4665 4322 1110","0122 5665 4321 1111","0123 5665 5322 1110","0123 5665 4322 1111","0123 5666 4332 2110","0123 5765 5322 1111","0123 5776 4322 2110","0124 5676 5332 1111","0123 5777 5432 2110","0123 6776 5432 1111","0123 5887 5432 1111","0124 6887 5432 2111","0123 5987 5432 2111","0124 6887 5433 2111","0124 6997 5432 2111","0134 6998 5433 2211","0123 7a97 6432 2111","0124 7a98 6433 2211","0134 7a97 6443 2211","0124 7a98 6443 2111","0134 8a98 6543 2211","0124 8ba8 6543 3211","0135 8ba8 6543 2211","0134 8ba9 7543 3211","0135 9ca9 7643 2211","0134 9cb9 7543 3211","0135 9cba 7644 3221","0134 9dba 7653 3211","0135 adbb 8654 3221","0135 adcb 8654 3221","0136 bdcb 8754 3221","0135 bedb 8654 4321","0136 bedc 9765 3321","0136 cedc 9765 4321","0136 cfed 9765 4321","0146 dfed a865 4321","0137 dfgd a875 4321","0136 egfd a876 4322","0147 ehge b976 5321","0147 fhhe b986 5322","0137 figf c986 5421","0147 ghih c996 5432","0137 gjih d996 5431","0127 gjih da97 5431"];

const fontFamily="'Liberation Sans', Arial, sans-serif", ink="#231f20", base=levelColors[0];
const levelValue=c=>(parseInt(c,20)+0.5)*7;
const pairs=a=>d3.range(0,a.length,2).map(i=>({x:a[i],y:a[i+1]}));
const hits=[hitsUpperLeft,hitsLowerLeft,hitsTopMiddle,hitsMidLeft,hitsTopRightNear,hitsUpperRight,hitsLowerRight].flatMap(pairs);
const mass=massTop.map((t,i)=>({x1:5000+50*i,x2:5050+50*i,t}));
const body=bodyRows.map(([y,x1,x2])=>({y,x1,x2}));
const expandRuns=list=>list.flatMap(([y,...r])=>d3.range(0,r.length,2).map(i=>({y,x1:r[i],x2:r[i+1]})));
const chars=s=>s.replace(/ /g,"").split("");
const floor=floorRows.flatMap(([y1,y2,s])=>chars(s).map((c,i)=>({x1:floorStart+100*i,x2:floorStart+100*(i+1),y1,y2,v:levelValue(c)})));
const low=lowRows.flatMap(([y,s])=>chars(s).map((c,i)=>({x1:lowStart+50*i,x2:lowStart+50*(i+1),y1:y,y2:y+50,v:levelValue(c),c}))).filter(d=>d.c!=="0");
const core=coreRows.flatMap((s,j)=>chars(s).map((c,i)=>({x1:coreStartX+40*i,x2:coreStartX+40*(i+1),y1:coreTopY-50*j,y2:coreTopY-50*j+50,v:levelValue(c),c}))).filter(d=>d.c!=="0");
const color={type:"threshold",domain:d3.range(1,20).map(i=>i*7),range:levelColors};
const XTICK_MAJOR=188,XTICK_MINOR=90,YTICK_MAJOR=211,YTICK_MINOR=107;

const main=Plot.plot({
  width:3150,height:1491,marginLeft:321,marginRight:343,marginTop:43,marginBottom:205,
  x:{domain:[5000,12000],axis:null},y:{domain:[0,6000],axis:null},color,
  style:{fontFamily,background:"transparent",overflow:"visible"},
  marks:[
    Plot.rect(mass,{x1:"x1",x2:"x2",y1:0,y2:"t",fill:base,clip:true,shapeRendering:"crispEdges"}),
    Plot.rect(body,{x1:"x1",x2:"x2",y1:"y",y2:d=>d.y+52,fill:base,clip:true,shapeRendering:"crispEdges"}),
    Plot.rect(expandRuns(flankRuns),{x1:"x1",x2:"x2",y1:"y",y2:d=>d.y+52,fill:base,clip:true,shapeRendering:"crispEdges"}),
    Plot.rect(expandRuns(fringeRuns),{x1:"x1",x2:"x2",y1:"y",y2:d=>d.y+52,fill:base,rx:3,clip:true}),
    Plot.rect(hits,{x1:d=>d.x-25,x2:d=>d.x+25,y1:d=>d.y-26,y2:d=>d.y+26,fill:base,rx:3,clip:true}),
    Plot.rect(pairs(holes),{x1:d=>d.x-14,x2:d=>d.x+14,y1:d=>d.y-16,y2:d=>d.y+16,fill:"#fff"}),
    Plot.rect(floor,{x1:"x1",x2:"x2",y1:"y1",y2:"y2",fill:"v",clip:true,shapeRendering:"crispEdges"}),
    Plot.rect(core,{x1:"x1",x2:"x2",y1:"y1",y2:"y2",fill:"v",clip:true,shapeRendering:"crispEdges"}),
    Plot.rect(low,{x1:"x1",x2:"x2",y1:"y1",y2:"y2",fill:"v",clip:true,shapeRendering:"crispEdges"}),
    Plot.line(redCut,{x:"0",y:"1",stroke:"#ff1a00",strokeWidth:7,strokeLinejoin:"miter"}),
    Plot.line(greenCut,{x:"0",y:"1",stroke:"#00ff00",strokeWidth:7,strokeLinejoin:"miter"}),
    Plot.ruleX(xMajor,{y1:0,y2:XTICK_MAJOR,stroke:"#000",strokeWidth:5}),
    Plot.ruleX(xMinor,{y1:0,y2:XTICK_MINOR,stroke:"#000",strokeWidth:5}),
    Plot.ruleY(yMajor,{x1:5000,x2:5000+YTICK_MAJOR,stroke:"#000",strokeWidth:5}),
    Plot.ruleY(yMinor,{x1:5000,x2:5000+YTICK_MINOR,stroke:"#000",strokeWidth:5}),
    Plot.frame({stroke:"#000",strokeWidth:6}),
    Plot.text(xMajor,{x:d=>d,y:0,dy:68,text:d=>String(d),fontSize:66,fill:ink,lineAnchor:"middle"}),
    Plot.text(yMajor,{x:5000,y:d=>d,dx:-33,dy:-3,text:d=>String(d),fontSize:66,fill:ink,textAnchor:"end",lineAnchor:"middle"}),
    Plot.text(["Time-of-Flight [a.u.]"],{frameAnchor:"bottom",dx:38,dy:160,fontSize:79,fill:"#000",lineAnchor:"middle"}),
    Plot.text(["dE/dx [a.u.]"],{frameAnchor:"left",textAnchor:"middle",dx:-259,dy:-18,rotate:-90,fontSize:78,fill:"#000",lineAnchor:"middle"})
  ]
});
main.style.left="0";
const band=levelColors.map((c,i)=>({y1:i*7,y2:(i+1)*7,v:(i+.5)*7}));
const bar=Plot.plot({
  width:331,height:1491,marginLeft:0,marginRight:185,marginTop:43,marginBottom:205,
  x:{domain:[0,1],axis:null},y:{domain:[0,140],axis:null},color,
  style:{fontFamily,background:"transparent",overflow:"visible"},
  marks:[
    Plot.rect(band,{x1:0,x2:1,y1:"y1",y2:"y2",fill:"v",shapeRendering:"crispEdges"}),
    Plot.ruleX([0.985],{stroke:"#000",strokeWidth:6}),
    Plot.ruleY(zTicks,{x1:0.47,x2:0.985,stroke:"#000",strokeWidth:5}),
    Plot.text(zTicks,{x:1,y:d=>d,dx:40,text:d=>String(d),fontSize:66,fill:ink,textAnchor:"start",lineAnchor:"middle"})
  ]
});
bar.style.left="2819px";
document.getElementById("wrap").append(main,bar);
</script></body></html>
